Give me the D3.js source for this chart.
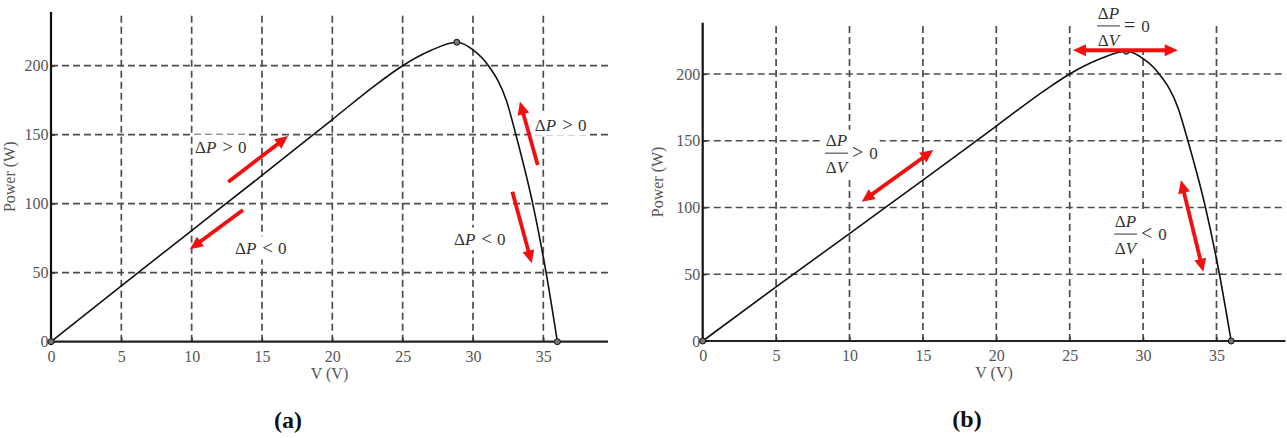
<!DOCTYPE html>
<html>
<head>
<meta charset="utf-8">
<script src="https://cdn.jsdelivr.net/npm/d3@7"></script>
<style>
body { margin: 0; background: #fff; }
svg { display: block; }
</style>
</head>
<body>
<svg id="chart" width="1287" height="438"></svg>
<script>
// P-V curve of the module (same curve in both panels)
const voltage = [0, 5, 10, 15, 20, 23.4, 25, 27, 28.85, 30, 31.1, 32.4, 33.05, 34.25, 35.2, 36];
const power = [0, 40.5, 80.5, 120.5, 161, 188.5, 200, 211, 217, 211.5, 200, 174, 150, 100, 50, 0];

// axis ticks
const xTicks = [0, 5, 10, 15, 20, 25, 30, 35];
const yTicks = [0, 50, 100, 150, 200];

// small dots: origin, MPP, open circuit
const dotV = [0, 28.85, 36];
const dotP = [0, 217, 0];

// panel (a) annotations, in V / P units
const arrowsA = [
  {from: [12.6, 115.7], to: [16.85, 149]},
  {from: [13.65, 95.4], to: [9.88, 67]},
  {from: [34.6, 128], to: [33.34, 174]},
  {from: [32.8, 108.7], to: [34.18, 56.8]}
];
const labelsA = [
  {v: 10.24, p: 141, rel: ">"},
  {v: 13.08, p: 67.2, rel: "<"},
  {v: 34.4, p: 157, rel: ">"},
  {v: 28.65, p: 73.7, rel: "<"}
];

// panel (b) annotations (double arrows, dP/dV fractions)
const arrowsB = [
  {from: [25.22, 217.8], to: [32.36, 217.8], both: true},
  {from: [10.83, 104.3], to: [15.71, 143], both: true},
  {from: [32.58, 120.5], to: [34.1, 51.9], both: true}
];
const labelsB = [
  {v: 8.33, p: 140.7, rel: ">"},
  {v: 28.02, p: 80.1, rel: "<"},
  {v: 26.86, p: 236, rel: "="}
];

const panels = [
  {x0: 51, x35: 543.3, xEnd: 39.6, y0: 341.7, y200: 65.7, yTop: 239,
   tag: "(a)", tagX: 288, tagY: 428, titleX: 15, arrows: arrowsA, labels: labelsA, frac: false},
  {x0: 702.7, x35: 1216.5, xEnd: 39.7, y0: 341, y200: 74, yTop: 238.3,
   tag: "(b)", tagX: 967, tagY: 427, titleX: 663, arrows: arrowsB, labels: labelsB, frac: true}
];

const svg = d3.select("#chart");
const FONT = "'Liberation Serif', 'Times New Roman', serif";
const RED = "#f20f0f";
const GRID = "#4d4d4d";

function arrowHead(g, tip, ux, uy) {
  const L = 13, W = 6;
  const bx = tip[0] - ux * L, by = tip[1] - uy * L;
  g.append("path")
    .attr("d", `M${tip[0]},${tip[1]}L${bx - uy * W},${by + ux * W}L${bx + uy * W},${by - ux * W}Z`)
    .attr("fill", RED);
}

function drawArrow(g, p1, p2, both) {
  const dx = p2[0] - p1[0], dy = p2[1] - p1[1];
  const len = Math.hypot(dx, dy);
  const ux = dx / len, uy = dy / len;
  const s = both ? [p1[0] + ux * 10, p1[1] + uy * 10] : p1;
  const e = [p2[0] - ux * 10, p2[1] - uy * 10];
  g.append("line")
    .attr("x1", s[0]).attr("y1", s[1])
    .attr("x2", e[0]).attr("y2", e[1])
    .attr("stroke", RED).attr("stroke-width", 3.8);
  arrowHead(g, p2, ux, uy);
  if (both) arrowHead(g, p1, -ux, -uy);
}

function plainLabel(g, xp, yc, rel) {
  const t = g.append("text")
    .attr("x", xp).attr("y", yc + 5.5)
    .attr("font-family", FONT).attr("font-size", 17).attr("fill", "#333");
  t.append("tspan").text("Δ");
  t.append("tspan").attr("font-style", "italic").text("P");
  t.append("tspan").attr("dx", 6).attr("font-size", 19).text(rel);
  t.append("tspan").attr("dx", 5).text("0");
}

function fracLabel(g, xp, barY, rel) {
  g.append("text")
    .attr("x", xp + 11.5).attr("y", barY - 7.4)
    .attr("text-anchor", "middle")
    .attr("font-family", FONT).attr("font-size", 17).attr("fill", "#333")
    .call(t => { t.append("tspan").text("Δ"); t.append("tspan").attr("font-style", "italic").text("P"); });
  g.append("line")
    .attr("x1", xp).attr("x2", xp + 23)
    .attr("y1", barY).attr("y2", barY)
    .attr("stroke", "#333").attr("stroke-width", 1);
  g.append("text")
    .attr("x", xp + 11.5).attr("y", barY + 19.6)
    .attr("text-anchor", "middle")
    .attr("font-family", FONT).attr("font-size", 17).attr("fill", "#333")
    .call(t => { t.append("tspan").text("Δ"); t.append("tspan").attr("font-style", "italic").text("V"); });
  const r = g.append("text")
    .attr("x", xp + 27).attr("y", barY + 6)
    .attr("font-family", FONT).attr("font-size", 17).attr("fill", "#333");
  r.append("tspan").attr("font-size", 20).text(rel);
  r.append("tspan").attr("dx", 6).text("0");
}

panels.forEach(pn => {
  const x = d3.scaleLinear().domain([0, 35]).range([pn.x0, pn.x35]);
  const y = d3.scaleLinear().domain([0, 200]).range([pn.y0, pn.y200]);
  const g = svg.append("g");

  // dashed grid
  g.append("g").selectAll("line")
    .data(xTicks.slice(1))
    .join("line")
    .attr("x1", d => x(d)).attr("x2", d => x(d))
    .attr("y1", y(0)).attr("y2", y(pn.yTop))
    .attr("stroke", GRID).attr("stroke-width", 1.7)
    .attr("stroke-dasharray", "7,4");
  g.append("g").selectAll("line")
    .data(yTicks.slice(1))
    .join("line")
    .attr("x1", x(0)).attr("x2", x(pn.xEnd))
    .attr("y1", d => y(d)).attr("y2", d => y(d))
    .attr("stroke", GRID).attr("stroke-width", 1.7)
    .attr("stroke-dasharray", "7,4");

  // tick labels with d3 axes, own axis lines
  const xa = g.append("g")
    .attr("transform", `translate(0,${y(0)})`)
    .call(d3.axisBottom(x).tickValues(xTicks).tickSize(-4).tickPadding(8.5));
  const ya = g.append("g")
    .attr("transform", `translate(${x(0)},0)`)
    .call(d3.axisLeft(y).tickValues(yTicks).tickSize(-4).tickPadding(2.5));
  [xa, ya].forEach(a => {
    a.select(".domain").remove();
    a.selectAll("line").attr("stroke", "#333").attr("stroke-width", 1.3);
    a.selectAll("text")
      .attr("font-family", FONT).attr("font-size", 16).attr("fill", "#555");
  });

  g.append("line")
    .attr("x1", x(0)).attr("x2", x(pn.xEnd))
    .attr("y1", y(0)).attr("y2", y(0))
    .attr("stroke", "#222").attr("stroke-width", 2.2);
  g.append("line")
    .attr("x1", x(0)).attr("x2", x(0))
    .attr("y1", y(0)).attr("y2", y(pn.yTop))
    .attr("stroke", "#111").attr("stroke-width", 2.2);

  // axis titles
  g.append("text")
    .attr("x", (x(0) + x(pn.xEnd)) / 2).attr("y", y(0) + 37)
    .attr("text-anchor", "middle")
    .attr("font-family", FONT).attr("font-size", 16).attr("fill", "#555")
    .text("V (V)");
  g.append("text")
    .attr("transform", `translate(${pn.titleX},${(y(0) + y(pn.yTop)) / 2}) rotate(-90)`)
    .attr("text-anchor", "middle")
    .attr("font-family", FONT).attr("font-size", 16).attr("fill", "#555")
    .text("Power (W)");

  // P-V curve
  const line = d3.line()
    .x((d, i) => x(voltage[i]))
    .y((d, i) => y(power[i]))
    .curve(d3.curveMonotoneX);
  g.append("path")
    .datum(voltage)
    .attr("d", line)
    .attr("fill", "none")
    .attr("stroke", "#111")
    .attr("stroke-width", 1.6);

  g.append("g").selectAll("circle")
    .data(dotV)
    .join("circle")
    .attr("cx", d => x(d))
    .attr("cy", (d, i) => y(dotP[i]))
    .attr("r", 3)
    .attr("fill", "#777").attr("stroke", "#111").attr("stroke-width", 1);

  // labels with white boxes knocking out the grid
  pn.labels.forEach(lb => {
    const lg = g.append("g");
    const bg = lg.append("rect").attr("fill", "#fff");
    if (pn.frac) fracLabel(lg, x(lb.v), y(lb.p), lb.rel);
    else plainLabel(lg, x(lb.v), y(lb.p), lb.rel);
    const bb = lg.node().getBBox();
    bg.attr("x", bb.x - 2).attr("y", bb.y - 1)
      .attr("width", bb.width + 4).attr("height", bb.height + 2);
  });

  // red arrows
  pn.arrows.forEach(a => {
    drawArrow(g, [x(a.from[0]), y(a.from[1])], [x(a.to[0]), y(a.to[1])], a.both);
  });

  // panel tag
  g.append("text")
    .attr("x", pn.tagX).attr("y", pn.tagY)
    .attr("text-anchor", "middle")
    .attr("font-family", FONT).attr("font-size", 24).attr("font-weight", "bold")
    .attr("fill", "#111")
    .text(pn.tag);
});
</script>
</body>
</html>
